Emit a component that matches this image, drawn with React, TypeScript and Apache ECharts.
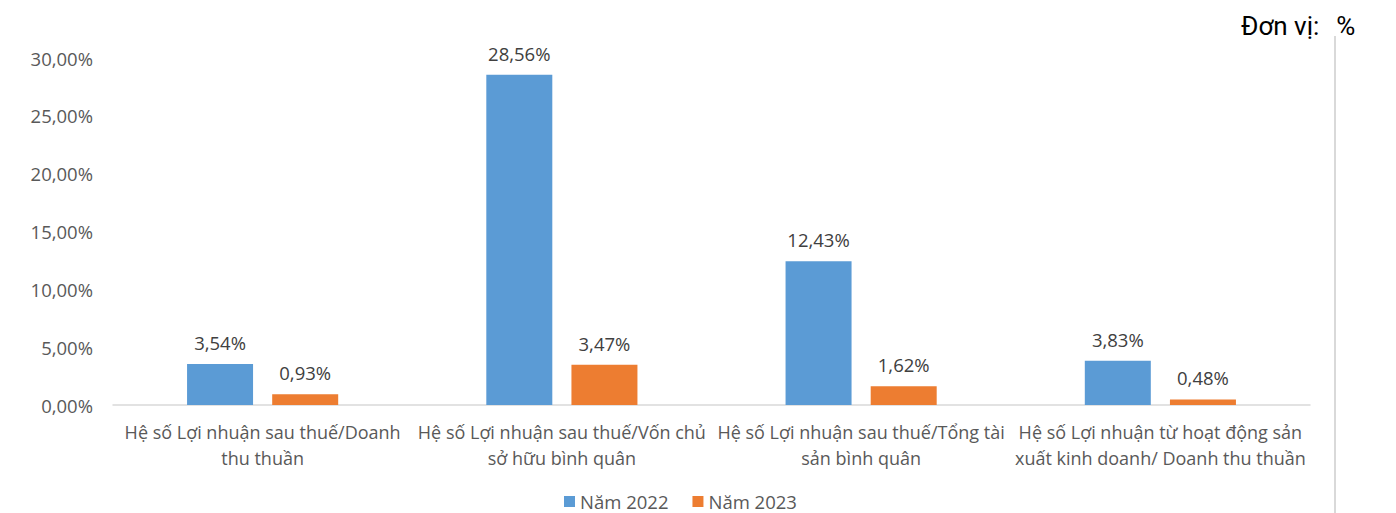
import React, { useEffect, useRef } from "react";
import * as echarts from "echarts";

const categories = [
  "Hệ số Lợi nhuận sau thuế/Doanh\nthu thuần",
  "Hệ số Lợi nhuận sau thuế/Vốn chủ\nsở hữu bình quân",
  "Hệ số Lợi nhuận sau thuế/Tổng tài\nsản bình quân",
  "Hệ số Lợi nhuận từ hoạt động sản\nxuất kinh doanh/ Doanh thu thuần",
];
const seriesNames = ["Năm 2022", "Năm 2023"];
const values2022 = [3.54, 28.56, 12.43, 3.83];
const values2023 = [0.93, 3.47, 1.62, 0.48];
const unitLabel = "Đơn vị:";
const unitSymbol = "%";

const fmt = (v: number) => v.toFixed(2).replace(".", ",") + "%";

export default function App() {
  const ref = useRef<HTMLDivElement>(null);
  useEffect(() => {
    if (!ref.current) return;
    const chart = echarts.init(ref.current, null, { renderer: "svg" });
    const font = "'Open Sans', 'Noto Sans', sans-serif";
    const valueLabel = {
      show: true,
      position: "top",
      distance: 12,
      fontSize: 18.5,
      color: "#404040",
      fontFamily: font,
      formatter: (p: any) => fmt(p.value),
    };
    chart.setOption({
      animation: false,
      backgroundColor: "#ffffff",
      textStyle: { fontFamily: font },
      grid: { left: 113, right: 86, top: 58, bottom: 108, containLabel: false },
      legend: {
        data: seriesNames,
        bottom: -3,
        left: 559,
        itemWidth: 11,
        itemHeight: 11,
        itemGap: 24,
        icon: "rect",
        textStyle: { fontSize: 18.5, color: "#595959", fontFamily: font },
      },
      xAxis: {
        type: "category",
        data: categories,
        axisLine: { lineStyle: { color: "#d9d9d9", width: 1.5 } },
        axisTick: { show: false },
        axisLabel: {
          interval: 0,
          fontSize: 18,
          color: "#595959",
          lineHeight: 26,
          margin: 14,
          fontFamily: font,
        },
      },
      yAxis: {
        type: "value",
        min: 0,
        max: 30,
        interval: 5,
        splitLine: { show: false },
        axisLine: { show: false },
        axisTick: { show: false },
        axisLabel: {
          fontSize: 18.5,
          color: "#595959",
          margin: 20,
          fontFamily: font,
          formatter: (v: number) => fmt(v),
        },
      },
      series: [
        {
          name: seriesNames[0],
          type: "bar",
          data: values2022,
          barWidth: 66,
          barGap: "29%",
          itemStyle: { color: "#5b9bd5" },
          label: valueLabel,
        },
        {
          name: seriesNames[1],
          type: "bar",
          data: values2023,
          barWidth: 66,
          itemStyle: { color: "#ed7d31" },
          label: valueLabel,
        },
      ],
      graphic: [
        {
          type: "text",
          x: 1241,
          y: 26,
          style: {
            text: "{a|" + unitLabel + "}{b|" + unitSymbol + "}",
            rich: {
              a: {
                fontSize: 26,
                fontFamily: "Roboto, 'Noto Sans', sans-serif",
                color: "#333333",
              },
              b: {
                fontSize: 26,
                fontFamily: "Roboto, 'Noto Sans', sans-serif",
                color: "#333333",
                padding: [0, 0, 0, 17],
              },
            },
            verticalAlign: "middle",
          },
        },
        {
          type: "line",
          shape: { x1: 1335, y1: 36, x2: 1335, y2: 513 },
          style: { stroke: "#d9d9d9", lineWidth: 2 },
        },
      ],
    });
    return () => chart.dispose();
  }, []);
  return (
    <div
      ref={ref}
      style={{ position: "fixed", left: 0, top: 0, width: 1396, height: 513 }}
    />
  );
}
